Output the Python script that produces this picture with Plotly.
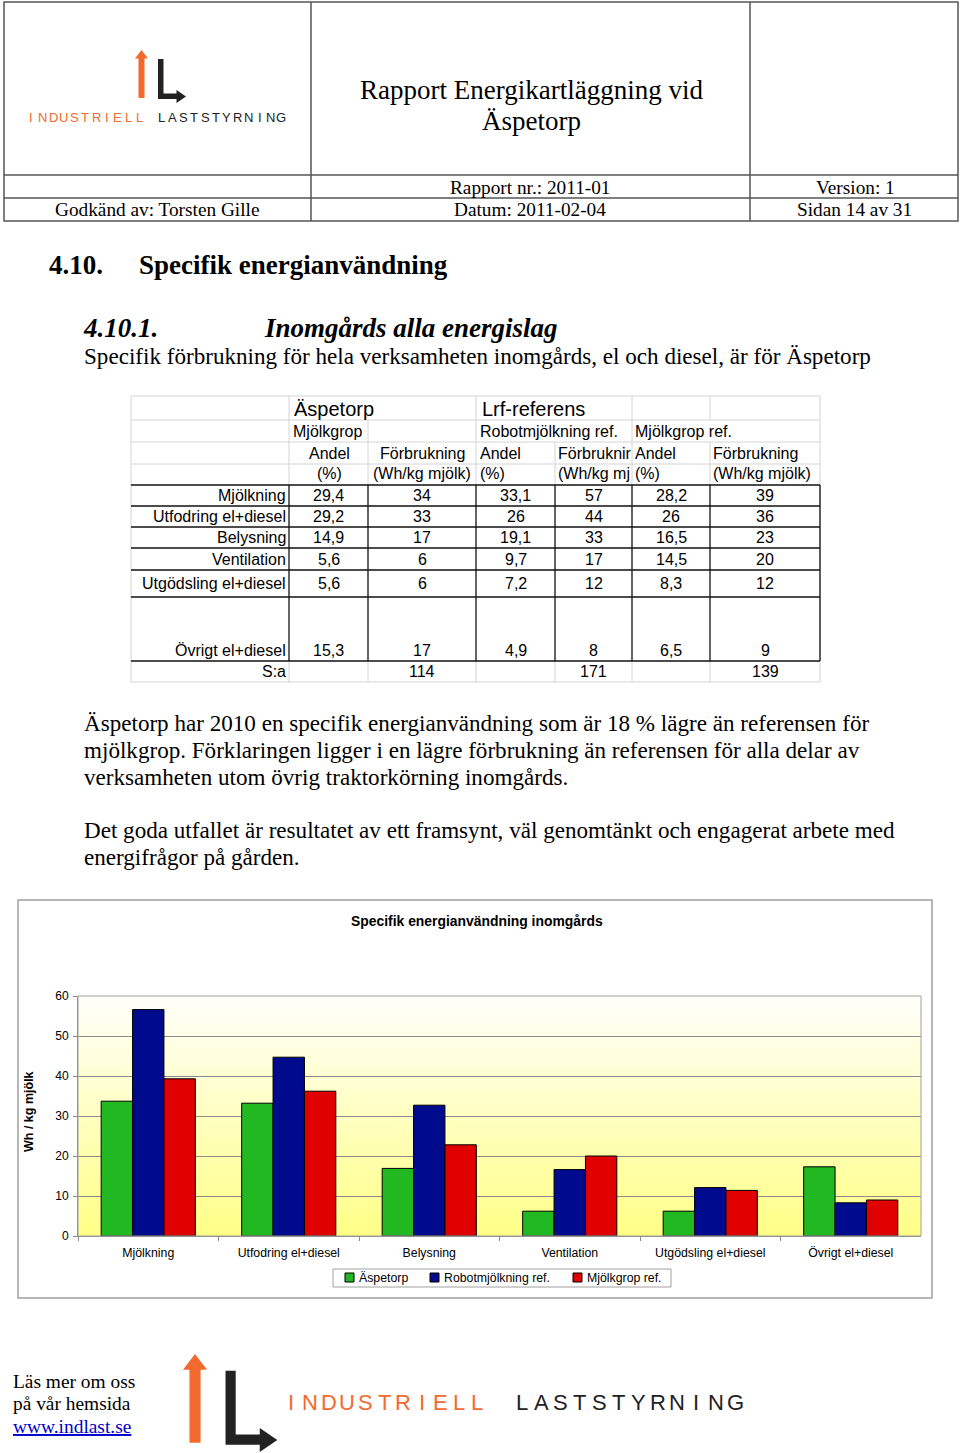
import plotly.graph_objects as go

W, H = 960, 1453

# ---------------- data ----------------
categories = ["Mjölkning", "Utfodring el+diesel", "Belysning", "Ventilation",
              "Utgödsling el+diesel", "Övrigt el+diesel"]
series_names = ["Äspetorp", "Robotmjölkning ref.", "Mjölkgrop ref."]
aspetorp = [33.7, 33.2, 16.9, 6.2, 6.2, 17.3]
robot_ref = [56.6, 44.7, 32.7, 16.6, 12.1, 8.3]
mjolkgrop_ref = [39.3, 36.2, 22.8, 20.0, 11.4, 9.0]
series_colors = ["#22B822", "#000A8C", "#E00000"]
y_ticks = [0, 10, 20, 30, 40, 50, 60]

table_rows = ["Mjölkning", "Utfodring el+diesel", "Belysning", "Ventilation",
              "Utgödsling el+diesel", "Övrigt el+diesel"]
asp_andel = ["29,4", "29,2", "14,9", "5,6", "5,6", "15,3"]
asp_forbr = ["34", "33", "17", "6", "6", "17"]
rob_andel = ["33,1", "26", "19,1", "9,7", "7,2", "4,9"]
rob_forbr = ["57", "44", "33", "17", "12", "8"]
mjg_andel = ["28,2", "26", "16,5", "14,5", "8,3", "6,5"]
mjg_forbr = ["39", "36", "23", "20", "12", "9"]
sums = ["114", "171", "139"]

SERIF = "Liberation Serif, Times New Roman, serif"
SANS = "Liberation Sans, Arial, sans-serif"


def px(x):
    return x / W


def py(y):
    return 1 - y / H


shapes = []
annotations = []


def line(x0, y0, x1, y1, color="#333", width=1):
    shapes.append(dict(type="line", xref="paper", yref="paper",
                       x0=px(x0), y0=py(y0), x1=px(x1), y1=py(y1),
                       line=dict(color=color, width=width)))


def rect(x0, y0, x1, y1, color="#333", width=1, fill=None):
    d = dict(type="rect", xref="paper", yref="paper",
             x0=px(x0), y0=py(y0), x1=px(x1), y1=py(y1),
             line=dict(color=color, width=width))
    if fill:
        d["fillcolor"] = fill
    shapes.append(d)


def poly(points, fill):
    path = "M " + " L ".join(f"{px(x):.5f},{py(y):.5f}" for x, y in points) + " Z"
    shapes.append(dict(type="path", xref="paper", yref="paper", path=path,
                       fillcolor=fill, line=dict(width=0)))


def text(x, y, s, size=12, family=SERIF, color="#000", anchor="left", bold=False,
         italic=False, angle=0):
    if bold:
        s = f"<b>{s}</b>"
    if italic:
        s = f"<i>{s}</i>"
    annotations.append(dict(xref="paper", yref="paper", x=px(x), y=py(y), text=s,
                            showarrow=False, xanchor=anchor, yanchor="middle",
                            textangle=angle, borderpad=0,
                            font=dict(size=size, family=family, color=color)))


# ---------------- header table ----------------
HC = "#555"
rect(4, 2, 958, 221, HC, 1.5)
line(311, 2, 311, 221, HC, 1.5)
line(750, 2, 750, 221, HC, 1.5)
line(4, 175, 958, 175, HC, 1.5)
line(4, 198, 958, 198, HC, 1.5)
text(531, 90, "Rapport Energikartläggning vid", 27, anchor="center")
text(531, 121, "Äspetorp", 27, anchor="center")
text(530, 187, "Rapport nr.: 2011-01", 19.3, anchor="center")
text(855, 187, "Version: 1", 19.3, anchor="center")
text(157, 210, "Godkänd av: Torsten Gille", 19.3, anchor="center")
text(530, 210, "Datum: 2011-02-04", 19.3, anchor="center")
text(854, 210, "Sidan 14 av 31", 19.3, anchor="center")

ORANGE = "#F26A2E"
DARK = "#222222"


def logo(ax, ay, s, letters_y, l1_x0, l1_pitch, l2_x0, l2_pitch, fsize):
    # orange up arrow
    poly([(ax - 6.5 * s, ay + 8.5 * s), (ax, ay), (ax + 6.5 * s, ay + 8.5 * s),
          (ax + 3 * s, ay + 8.5 * s), (ax + 3 * s, ay + 48 * s),
          (ax - 3 * s, ay + 48 * s), (ax - 3 * s, ay + 8.5 * s)], ORANGE)
    # black L with right arrow
    lx = ax + 16.5 * s
    poly([(lx, ay + 9 * s), (lx + 5.5 * s, ay + 9 * s), (lx + 5.5 * s, ay + 43.5 * s),
          (lx + 18.5 * s, ay + 43.5 * s), (lx + 18.5 * s, ay + 40 * s),
          (lx + 28 * s, ay + 46.5 * s), (lx + 18.5 * s, ay + 53 * s),
          (lx + 18.5 * s, ay + 49 * s), (lx, ay + 49 * s)], DARK)
    for i, ch in enumerate("INDUSTRIELL"):
        text(l1_x0 + (i + 0.5) * l1_pitch, letters_y, ch, fsize, SANS, ORANGE, "center")
    for i, ch in enumerate("LASTSTYRNING"):
        text(l2_x0 + (i + 0.5) * l2_pitch, letters_y, ch, fsize, SANS, DARK, "center")


logo(141.5, 50, 1.0, 118, 26, 10.8, 156, 10.9, 13)

# ---------------- headings ----------------
text(48, 265, "4.10.", 27, bold=True)
text(138, 265, "Specifik energianvändning", 27, bold=True)
text(82, 328, "4.10.1.", 27, bold=True, italic=True)
text(263, 328, "Inomgårds alla energislag", 27, bold=True, italic=True)
text(83, 356, "Specifik förbrukning för hela verksamheten inomgårds, el och diesel, är för Äspetorp", 23.1)

# ---------------- table image ----------------
GRID = "#D4D4D4"
cols = [131, 289, 368, 476, 555, 632, 710, 820]
hdr_rows = [396, 420, 442, 464, 485]
data_rows = [485, 506, 527, 548, 570, 597, 661]
bottom = 682
rect(131, 396, 820, bottom, GRID, 1)
for yy in hdr_rows[1:-1]:
    line(131, yy, 820, yy, GRID, 1)
# header verticals (omitted where text overflows into the next cell)
for xx in [289, 476, 632, 710]:
    line(xx, 396, xx, 420, GRID, 1)
for xx in [289, 368, 476, 632]:
    line(xx, 420, xx, 442, GRID, 1)
for xx in cols[1:-1]:
    line(xx, 442, xx, 485, GRID, 1)
    line(xx, 661, xx, bottom, GRID, 1)
for yy in data_rows:
    line(131, yy, 820, yy, "#111", 1.3)
for xx in cols[1:]:
    line(xx, 485, xx, 661, "#111", 1.3)

TS = 16
text(293, 409, "Äspetorp", 20, SANS)
text(481, 409, "Lrf-referens", 20, SANS)
text(292, 432, "Mjölkgrop", TS, SANS)
text(479, 432, "Robotmjölkning ref.", TS, SANS)
text(634, 432, "Mjölkgrop ref.", TS, SANS)
text(329, 453, "Andel", TS, SANS, anchor="center")
text(422, 453, "Förbrukning", TS, SANS, anchor="center")
text(479, 453, "Andel", TS, SANS)
text(557, 453, "Förbruknir", TS, SANS)
text(634, 453, "Andel", TS, SANS)
text(712, 453, "Förbrukning", TS, SANS)
text(329, 474, "(%)", TS, SANS, anchor="center")
text(422, 474, "(Wh/kg mjölk)", TS, SANS, anchor="center")
text(479, 474, "(%)", TS, SANS)
text(557, 474, "(Wh/kg mj", TS, SANS)
text(634, 474, "(%)", TS, SANS)
text(712, 474, "(Wh/kg mjölk)", TS, SANS)

centers = [(cols[i] + cols[i + 1]) / 2 for i in range(1, 7)]
value_cols = [asp_andel, asp_forbr, rob_andel, rob_forbr, mjg_andel, mjg_forbr]
for r, name in enumerate(table_rows):
    y0, y1 = data_rows[r], data_rows[r + 1]
    yc = (y0 + y1) / 2 if r < 5 else y1 - 11
    text(287, yc, name, TS, SANS, anchor="right")
    for c, vals in enumerate(value_cols):
        text(centers[c], yc, vals[r], TS, SANS, anchor="center")
text(287, 671, "S:a", TS, SANS, anchor="right")
for c, s in zip([1, 3, 5], sums):
    text(centers[c], 671, s, TS, SANS, anchor="center")

# ---------------- paragraphs ----------------
para = [
    (723, "Äspetorp har 2010 en specifik energianvändning som är 18 % lägre än referensen för"),
    (750, "mjölkgrop. Förklaringen ligger i en lägre förbrukning än referensen för alla delar av"),
    (777, "verksamheten utom övrig traktorkörning inomgårds."),
    (830, "Det goda utfallet är resultatet av ett framsynt, väl genomtänkt och engagerat arbete med"),
    (857, "energifrågor på gården."),
]
for yy, s in para:
    text(83, yy, s, 23.1)

# ---------------- chart ----------------
rect(18, 900, 932, 1298, "#A0A0A0", 1.5)
text(477, 921, "Specifik energianvändning inomgårds", 13.9, SANS, bold=True, anchor="center")
text(29, 1112, "Wh / kg mjölk", 12.5, SANS, bold=True, anchor="center", angle=-90)

PL, PR, PT, PB = 78, 921, 996, 1236
# gradient background of plot area
N = 40
for i in range(N):
    t = i / (N - 1)
    b = int(round(250 - 115 * t))
    shapes.append(dict(type="rect", xref="x domain", yref="y domain",
                       x0=0, x1=1, y0=1 - (i + 1) / N, y1=1 - i / N,
                       fillcolor=f"rgb(255,255,{b})", line=dict(width=0),
                       layer="below"))

# legend box
rect(333, 1269, 671, 1287, "#A0A0A0", 1, "white")
leg_x = [345, 430, 573]
for lx, name, col in zip(leg_x, series_names, series_colors):
    rect(lx, 1273, lx + 9, 1282, "#000", 1, col)
    text(lx + 13, 1278, name, 12.3, SANS)

fig = go.Figure()
for name, vals, col in zip(series_names, [aspetorp, robot_ref, mjolkgrop_ref], series_colors):
    fig.add_trace(go.Bar(name=name, x=categories, y=vals, marker_color=col,
                         marker_line=dict(color="#000", width=1)))

fig.update_layout(
    width=W, height=H, margin=dict(l=0, r=0, t=0, b=0, autoexpand=False),
    paper_bgcolor="white", plot_bgcolor="rgba(0,0,0,0)",
    barmode="group", bargap=0.33, bargroupgap=0,
    showlegend=False,
    xaxis=dict(domain=[px(PL), px(PR)], showgrid=False, ticks="outside", tickson="boundaries",
               ticklen=4, tickcolor="#888", showline=True, linecolor="#888", linewidth=1,
               ticklabelstandoff=5,
               tickfont=dict(family=SANS, size=12.3, color="#000"), fixedrange=True),
    yaxis=dict(domain=[py(PB), py(PT)], range=[0, 60], tickvals=y_ticks, showgrid=True,
               gridcolor="#8C8C8C", gridwidth=1, ticks="outside", ticklen=4, tickcolor="#888",
               showline=True, linecolor="#888", linewidth=1, zeroline=False,
               ticklabelstandoff=2,
               tickfont=dict(family=SANS, size=12, color="#000"), fixedrange=True),
)

# ---------------- footer ----------------
text(12, 1381, "Läs mer om oss", 19.4)
text(12, 1403, "på vår hemsida", 19.4)
text(12, 1426, "<u>www.indlast.se</u>", 19.4, color="#0000CC")
logo(195, 1354, 1.85, 1402, 282, 18.6, 512, 19.4, 22)

fig.update_layout(shapes=shapes, annotations=annotations)
# border of plot area
fig.add_shape(type="rect", xref="x domain", yref="y domain", x0=0, x1=1, y0=0, y1=1,
              line=dict(color="#A0A0A0", width=1))

fig.write_html("out.html")
